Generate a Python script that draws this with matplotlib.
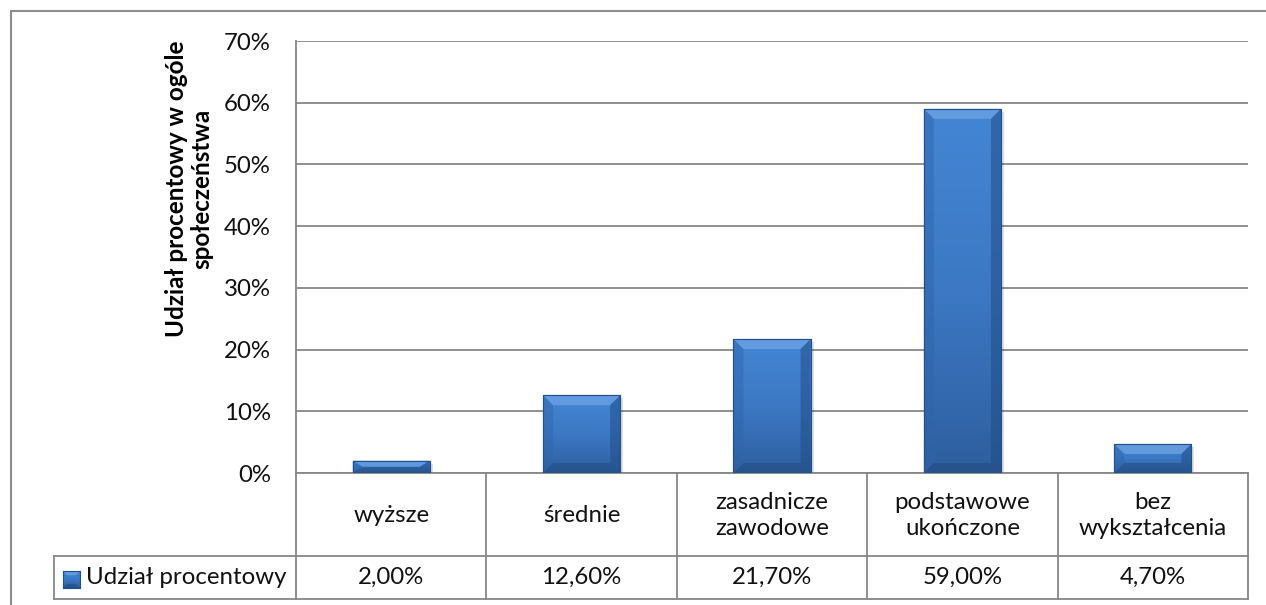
import matplotlib
matplotlib.use("Agg")
import matplotlib.pyplot as plt
import numpy as np
from matplotlib.patches import Rectangle, Polygon
from matplotlib.colors import LinearSegmentedColormap
from matplotlib.ticker import FuncFormatter

plt.rcParams['font.family'] = ['Lato', 'DejaVu Sans']

# ---- data ----
categories = ["wyższe", "średnie", "zasadnicze\nzawodowe", "podstawowe\nukończone", "bez\nwykształcenia"]
values = [2.0, 12.6, 21.7, 59.0, 4.7]
series_name = "Udział procentowy"
y_label = "Udział procentowy w ogóle\nspołeczeństwa"
y_ticks = [0, 10, 20, 30, 40, 50, 60, 70]

W, H = 1266, 605
DPI = 100
fig = plt.figure(figsize=(W / DPI, H / DPI), dpi=DPI)

def fx(px):
    return px / W

def fy(py):
    return 1 - py / H

ax_l, ax_r, ax_t, ax_b = 296, 1248, 41, 473
ax = fig.add_axes([fx(ax_l), fy(ax_b), fx(ax_r - ax_l), (ax_b - ax_t) / H])

GRID = "#878787"
FS = 17.3
TXT = "#111111"

n = len(categories)
x = np.arange(n)
bars = ax.bar(x, values, width=0.405, color="#3B76C2", edgecolor="#24508A",
              linewidth=0.8, zorder=3)

ax.set_xlim(-0.5, n - 0.5)
ax.set_ylim(0, 70)
ax.set_yticks(y_ticks)
ax.yaxis.set_major_formatter(FuncFormatter(lambda v, p: f"{v:.0f}%"))
ax.tick_params(axis='y', length=0, pad=18, labelsize=FS, labelcolor=TXT)
ax.set_xticks([])
ax.grid(axis='y', color=GRID, linewidth=1.3, zorder=0)
for s in ["top", "right"]:
    ax.spines[s].set_visible(False)
for s in ["left", "bottom"]:
    ax.spines[s].set_color(GRID)
    ax.spines[s].set_linewidth(1.3)

px_per_x = (ax_r - ax_l) / n
px_per_y = (ax_b - ax_t) / 70.0

cmap = LinearSegmentedColormap.from_list("bar", ["#2E5F9F", "#3C78C4", "#4486D4"])
for b in bars:
    bx, by = b.get_x(), b.get_y()
    bw, bh = b.get_width(), b.get_height()
    ax.add_patch(Rectangle((bx + 3 / px_per_x, by), bw, bh - 3 / px_per_y,
                           facecolor="#000000", alpha=0.12, edgecolor="none", zorder=2))
    grad = np.linspace(0, 1, 256).reshape(-1, 1)
    im = ax.imshow(grad, extent=(bx, bx + bw, by, by + bh), origin="lower",
                   cmap=cmap, aspect="auto", zorder=3.5)
    im.set_clip_path(b)
    dx = min(10 / px_per_x, bw / 2)
    dy = min(10 / px_per_y, bh / 2)
    top = Polygon([(bx, by + bh), (bx + bw, by + bh), (bx + bw - dx, by + bh - dy),
                   (bx + dx, by + bh - dy)], closed=True, facecolor="#6AA2E2",
                  edgecolor="none", alpha=0.8, zorder=3.6)
    left = Polygon([(bx, by), (bx, by + bh), (bx + dx, by + bh - dy), (bx + dx, by + dy)],
                   closed=True, facecolor="#2F64A8", edgecolor="none", alpha=0.45, zorder=3.6)
    right = Polygon([(bx + bw, by), (bx + bw, by + bh), (bx + bw - dx, by + bh - dy),
                     (bx + bw - dx, by + dy)], closed=True, facecolor="#1F4A82",
                    edgecolor="none", alpha=0.5, zorder=3.6)
    bot = Polygon([(bx, by), (bx + bw, by), (bx + bw - dx, by + dy), (bx + dx, by + dy)],
                  closed=True, facecolor="#1E4677", edgecolor="none", alpha=0.45, zorder=3.6)
    for p in (top, left, right, bot):
        ax.add_patch(p)
    ax.add_patch(Rectangle((bx, by), bw, bh, facecolor="none", edgecolor="#24508A",
                           linewidth=0.8, zorder=3.7))

# ---- data table ----
row1_b, row2_b, leg_l = 556, 599, 54
lw = 1.3
tr = fig.transFigure
cell_edges = [ax_l + i * px_per_x for i in range(n + 1)]
fig.add_artist(plt.Line2D([fx(leg_l), fx(ax_r)], [fy(row1_b), fy(row1_b)], color=GRID, lw=lw, transform=tr))
fig.add_artist(plt.Line2D([fx(leg_l), fx(ax_r)], [fy(row2_b), fy(row2_b)], color=GRID, lw=lw, transform=tr))
fig.add_artist(plt.Line2D([fx(leg_l), fx(leg_l)], [fy(row1_b), fy(row2_b)], color=GRID, lw=lw, transform=tr))
for e in cell_edges:
    fig.add_artist(plt.Line2D([fx(e), fx(e)], [fy(ax_b), fy(row2_b)], color=GRID, lw=lw, transform=tr))

for i, (c, v) in enumerate(zip(categories, values)):
    cx = (cell_edges[i] + cell_edges[i + 1]) / 2
    fig.text(fx(cx), fy((ax_b + row1_b) / 2 + 1), c, ha="center", va="center",
             fontsize=FS, color=TXT, linespacing=1.35)
    fig.text(fx(cx), fy((row1_b + row2_b) / 2), f"{v:.2f}%".replace(".", ","),
             ha="center", va="center", fontsize=FS, color=TXT)

# legend key
key_l, key_t, key_s = 63, 571, 17
kax = fig.add_axes([fx(key_l), fy(key_t + key_s), fx(key_s), key_s / H])
kax.imshow(np.linspace(0, 1, 64).reshape(-1, 1), cmap=cmap, aspect="auto",
           origin="lower", extent=(0, 1, 0, 1))
kax.add_patch(Polygon([(0, 1), (1, 1), (0.75, 0.75), (0.25, 0.75)], facecolor="#6AA2E2", alpha=0.8))
kax.add_patch(Polygon([(0, 0), (1, 0), (0.75, 0.25), (0.25, 0.25)], facecolor="#1E4677", alpha=0.5))
kax.set_xlim(0, 1); kax.set_ylim(0, 1)
for s in kax.spines.values():
    s.set_color("#24508A"); s.set_linewidth(0.8)
kax.set_xticks([]); kax.set_yticks([])
fig.text(fx(86), fy((row1_b + row2_b) / 2), series_name, ha="left", va="center",
         fontsize=FS, color=TXT)

# y label
fig.text(fx(189), fy(189), y_label, rotation=90, ha="center", va="center",
         fontsize=17.5, fontweight="bold", color="#000000", linespacing=1.15,
         multialignment="center")

# outer border
fig.add_artist(Rectangle((fx(11), fy(H + 20)), fx(W + 40), (H + 20 - 11) / H,
                         transform=tr, facecolor="none", edgecolor="#8C8C8C", lw=1.5,
                         clip_on=False))

fig.savefig("out.png", dpi=DPI)
